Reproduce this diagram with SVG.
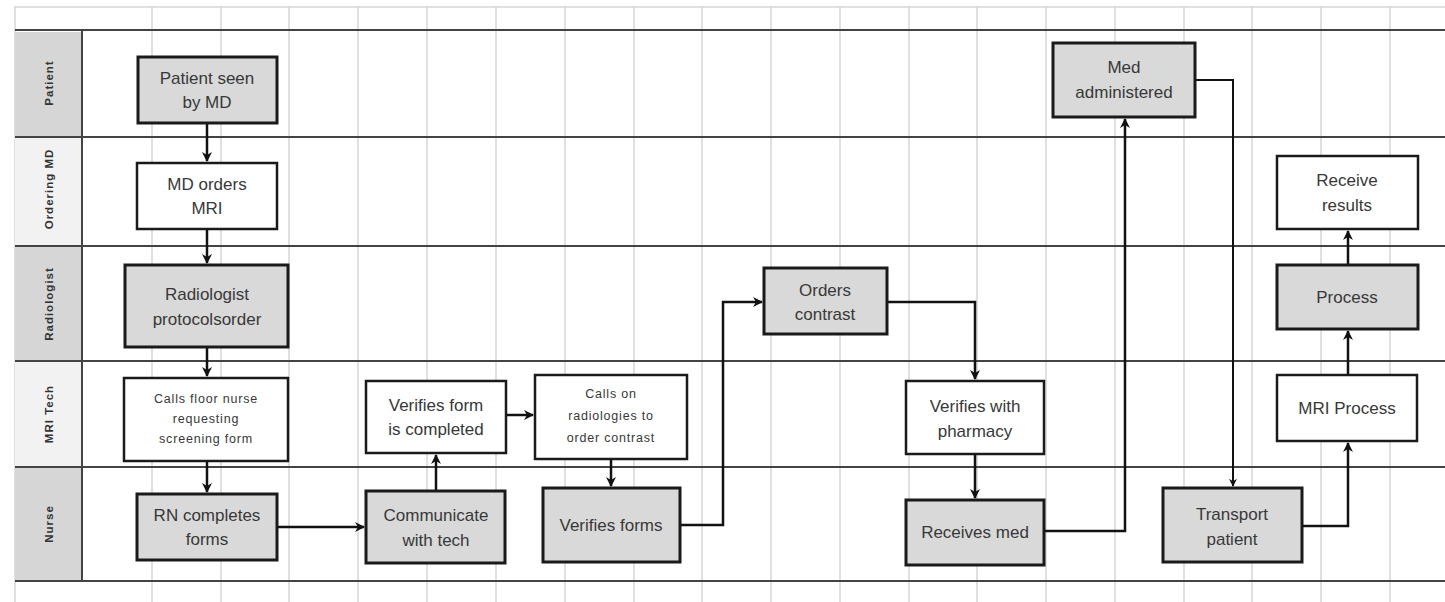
<svg xmlns="http://www.w3.org/2000/svg" width="1445" height="602" viewBox="0 0 1445 602">
<style>
.grid{stroke:#d6d6d6;stroke-width:1.5;fill:none}
.lane{stroke:#444;stroke-width:2;fill:none}
.lbl{font-family:"Liberation Sans",Arial,sans-serif;font-size:11.5px;font-weight:bold;fill:#333;text-anchor:middle;letter-spacing:1px}
.g rect{fill:#d9d9d9;stroke:#1a1a1a;stroke-width:3}
.w rect{fill:#fff;stroke:#1a1a1a;stroke-width:2.5}
.t{font-family:"Liberation Sans",Arial,sans-serif;font-size:17px;fill:#383838;text-anchor:middle}
.s{font-family:"Liberation Sans",Arial,sans-serif;font-size:12.5px;fill:#383838;text-anchor:middle;letter-spacing:0.8px}
.c{stroke:#111;stroke-width:2.5;fill:none;marker-end:url(#a)}
</style>
<defs>
<marker id="a" viewBox="0 0 10 10" refX="9" refY="5" markerWidth="4" markerHeight="4" orient="auto" markerUnits="strokeWidth">
<path d="M0,0 L10,5 L0,10 L3,5 z" fill="#111"/>
</marker>
</defs>
<rect width="1445" height="602" fill="#fff"/>
<g id="grid">
<line class="grid" x1="15" y1="6" x2="15" y2="602"/>
<line class="grid" x1="152" y1="6" x2="152" y2="602"/>
<line class="grid" x1="221" y1="6" x2="221" y2="602"/>
<line class="grid" x1="289" y1="6" x2="289" y2="602"/>
<line class="grid" x1="358" y1="6" x2="358" y2="602"/>
<line class="grid" x1="427" y1="6" x2="427" y2="602"/>
<line class="grid" x1="496" y1="6" x2="496" y2="602"/>
<line class="grid" x1="565" y1="6" x2="565" y2="602"/>
<line class="grid" x1="634" y1="6" x2="634" y2="602"/>
<line class="grid" x1="702" y1="6" x2="702" y2="602"/>
<line class="grid" x1="771" y1="6" x2="771" y2="602"/>
<line class="grid" x1="840" y1="6" x2="840" y2="602"/>
<line class="grid" x1="909" y1="6" x2="909" y2="602"/>
<line class="grid" x1="977" y1="6" x2="977" y2="602"/>
<line class="grid" x1="1046" y1="6" x2="1046" y2="602"/>
<line class="grid" x1="1115" y1="6" x2="1115" y2="602"/>
<line class="grid" x1="1184" y1="6" x2="1184" y2="602"/>
<line class="grid" x1="1252" y1="6" x2="1252" y2="602"/>
<line class="grid" x1="1321" y1="6" x2="1321" y2="602"/>
<line class="grid" x1="1390" y1="6" x2="1390" y2="602"/>
<line class="grid" x1="15" y1="7" x2="1445" y2="7"/>
</g>
<g id="lanes">
<rect x="15" y="32" width="66" height="104" fill="#d6d6d6"/>
<rect x="15" y="138" width="66" height="107" fill="#f2f2f2"/>
<rect x="15" y="247" width="66" height="113" fill="#d6d6d6"/>
<rect x="15" y="362" width="66" height="104" fill="#f2f2f2"/>
<rect x="15" y="468" width="66" height="112" fill="#d6d6d6"/>
<line class="lane" x1="15" y1="30" x2="1445" y2="30"/>
<line class="lane" x1="15" y1="137" x2="1445" y2="137"/>
<line class="lane" x1="15" y1="246" x2="1445" y2="246"/>
<line class="lane" x1="15" y1="361" x2="1445" y2="361"/>
<line class="lane" x1="15" y1="467" x2="1445" y2="467"/>
<line class="lane" x1="15" y1="581" x2="1445" y2="581"/>
<line class="lane" x1="82" y1="30" x2="82" y2="581"/>
<text class="lbl" transform="translate(53,83) rotate(-90)">Patient</text>
<text class="lbl" transform="translate(53,189) rotate(-90)">Ordering MD</text>
<text class="lbl" transform="translate(53,304) rotate(-90)">Radiologist</text>
<text class="lbl" transform="translate(53,414) rotate(-90)">MRI Tech</text>
<text class="lbl" transform="translate(53,524) rotate(-90)">Nurse</text>
</g>
<g id="connectors">
<path class="c" d="M207,123 V161"/>
<path class="c" d="M207,229 V263"/>
<path class="c" d="M207,347 V376"/>
<path class="c" d="M207,461 V492"/>
<path class="c" d="M277,527 H364"/>
<path class="c" d="M436,491 V455"/>
<path class="c" d="M506,415 H533"/>
<path class="c" d="M611,459 V486"/>
<path class="c" d="M680,525 H723 V302 H762"/>
<path class="c" d="M887,302 H975 V379"/>
<path class="c" d="M975,454 V498"/>
<path class="c" d="M1044,531 H1125 V119"/>
<path class="c" d="M1195,80 H1233 V486" style="stroke-width:2"/>
<path class="c" d="M1302,526 H1348 V443"/>
<path class="c" d="M1348,375 V331"/>
<path class="c" d="M1348,265 V231"/>
</g>
<g id="n1" class="g"><rect x="138" y="57" width="139" height="66"/><text class="t" x="207" y="84">Patient seen</text><text class="t" x="207" y="108">by MD</text></g>
<g id="n2" class="w"><rect x="137" y="163" width="140" height="66"/><text class="t" x="207" y="190">MD orders</text><text class="t" x="207" y="214">MRI</text></g>
<g id="n3" class="g"><rect x="125" y="265" width="163" height="82"/><text class="t" x="207" y="300">Radiologist</text><text class="t" x="207" y="325">protocolsorder</text></g>
<g id="n4" class="w"><rect x="124" y="378" width="164" height="83"/><text class="s" x="206" y="403">Calls floor nurse</text><text class="s" x="206" y="423">requesting</text><text class="s" x="206" y="443">screening form</text></g>
<g id="n5" class="g"><rect x="137" y="494" width="140" height="66"/><text class="t" x="207" y="521">RN completes</text><text class="t" x="207" y="545">forms</text></g>
<g id="n6" class="w"><rect x="366" y="381" width="140" height="72"/><text class="t" x="436" y="411">Verifies form</text><text class="t" x="436" y="435">is completed</text></g>
<g id="n7" class="w"><rect x="535" y="375" width="152" height="84"/><text class="s" x="611" y="398">Calls on</text><text class="s" x="611" y="420">radiologies to</text><text class="s" x="611" y="442">order contrast</text></g>
<g id="n8" class="g"><rect x="366" y="491" width="139" height="72"/><text class="t" x="436" y="521">Communicate</text><text class="t" x="436" y="546">with tech</text></g>
<g id="n9" class="g"><rect x="543" y="488" width="137" height="74"/><text class="t" x="611" y="531">Verifies forms</text></g>
<g id="n10" class="g"><rect x="764" y="268" width="123" height="66"/><text class="t" x="825" y="296">Orders</text><text class="t" x="825" y="320">contrast</text></g>
<g id="n11" class="w"><rect x="906" y="381" width="138" height="73"/><text class="t" x="975" y="412">Verifies with</text><text class="t" x="975" y="437">pharmacy</text></g>
<g id="n12" class="g"><rect x="906" y="500" width="138" height="65"/><text class="t" x="975" y="538">Receives med</text></g>
<g id="n13" class="g"><rect x="1053" y="43" width="142" height="74"/><text class="t" x="1124" y="73">Med</text><text class="t" x="1124" y="98">administered</text></g>
<g id="n14" class="w"><rect x="1277" y="156" width="141" height="73"/><text class="t" x="1347" y="186">Receive</text><text class="t" x="1347" y="211">results</text></g>
<g id="n15" class="g"><rect x="1277" y="265" width="141" height="64"/><text class="t" x="1347" y="303">Process</text></g>
<g id="n16" class="w"><rect x="1277" y="375" width="140" height="66"/><text class="t" x="1347" y="414">MRI Process</text></g>
<g id="n17" class="g"><rect x="1163" y="488" width="139" height="74"/><text class="t" x="1232" y="520">Transport</text><text class="t" x="1232" y="545">patient</text></g>
</svg>
